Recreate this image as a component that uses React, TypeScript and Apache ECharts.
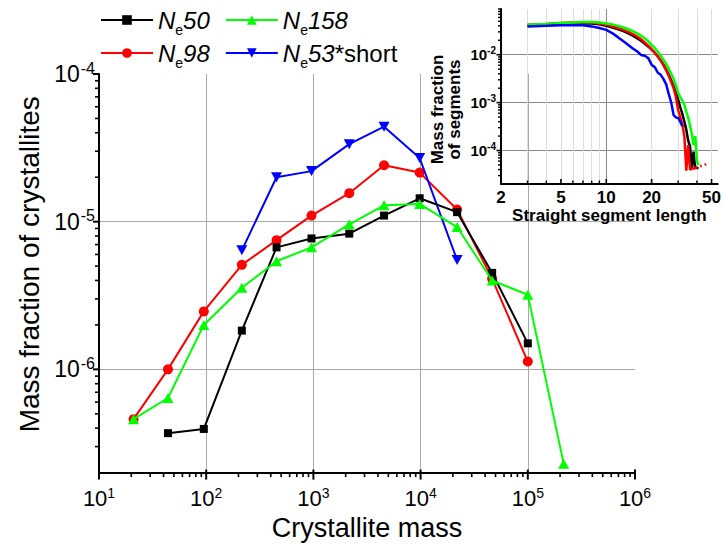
import React, { useEffect, useRef } from 'react';
import * as echarts from 'echarts';

const FONT = "'Liberation Sans', Arial, Helvetica, sans-serif";

// ---------- main chart data ----------
const massX = [21, 44, 95, 215, 453, 960, 2160, 4560, 9800, 21900, 46500, 100000, 216000];
const ne50 = [null, 3.7e-7, 3.95e-7, 1.83e-6, 6.7e-6, 7.7e-6, 8.3e-6, 1.1e-5, 1.44e-5, 1.16e-5, 4.5e-6, 1.5e-6, null];
const ne98 = [4.6e-7, 1.0e-6, 2.47e-6, 5.1e-6, 7.5e-6, 1.1e-5, 1.56e-5, 2.41e-5, 2.15e-5, 1.21e-5, 4.1e-6, 1.13e-6, null];
const ne158 = [4.6e-7, 6.4e-7, 2.0e-6, 3.57e-6, 5.4e-6, 6.7e-6, 9.6e-6, 1.29e-5, 1.32e-5, 9.2e-6, 4.0e-6, 3.2e-6, 2.3e-7];
const ne53short = [null, null, null, 6.4e-6, 2.0e-5, 2.2e-5, 3.35e-5, 4.4e-5, 2.7e-5, 5.5e-6, null, null, null];

const mainXMajor = [1e1, 1e2, 1e3, 1e4, 1e5, 1e6];
const mainXMinor = [20, 30, 40, 50, 60, 70, 80, 90, 200, 300, 400, 500, 600, 700, 800, 900,
  2000, 3000, 4000, 5000, 6000, 7000, 8000, 9000, 20000, 30000, 40000, 50000, 60000, 70000, 80000, 90000,
  200000, 300000, 400000, 500000, 600000, 700000, 800000, 900000];
const mainYMajor = [1e-6, 1e-5, 1e-4];
const mainYMinor = [3e-7, 4e-7, 5e-7, 6e-7, 7e-7, 8e-7, 9e-7, 2e-6, 3e-6, 4e-6, 5e-6, 6e-6, 7e-6, 8e-6, 9e-6,
  2e-5, 3e-5, 4e-5, 5e-5, 6e-5, 7e-5, 8e-5, 9e-5];

// ---------- inset data ----------
const segLen = [3, 4, 5, 6, 7, 8, 9, 10, 11, 12, 13, 14, 15, 16, 17, 18, 19, 20, 21, 22, 23, 24, 25,
  26, 27, 28, 29, 30, 31, 32, 33, 34, 35, 36, 37, 38, 39, 40, 41, 42, 43, 44, 45, 46, 47];
const seg50 = [0.040, 0.042, 0.044, 0.045, 0.045, 0.045, 0.043, 0.040, 0.037, 0.034, 0.031, 0.028, 0.025,
  0.022, 0.0195, 0.017, 0.0148, 0.0128, 0.011, 0.0092, 0.0076, 0.0062, 0.0049, 0.0038, 0.0029, 0.0022,
  0.0016, 0.00115, 0.0008, 0.00058, 0.0004, 0.00027, 0.00016, 0.00012, 0.000043, 0.000095, 0.000043,
  0.000043, 0.000043, null, null, null, null, null, null];
const seg98 = [0.042, 0.044, 0.046, 0.047, 0.047, 0.047, 0.045, 0.042, 0.039, 0.036, 0.033, 0.030, 0.027,
  0.024, 0.021, 0.018, 0.0155, 0.013, 0.011, 0.0092, 0.0075, 0.006, 0.0047, 0.0036, 0.0027, 0.002,
  0.0013, 0.0007, 0.0005, 0.00035, 0.0002, 0.000038, 0.00013, 0.00004, 0.000042, 0.000042, 0.000043,
  0.000045, null, 0.000047, 0.000048, null, 0.00005, 0.000052, null];
const seg158 = [0.042, 0.044, 0.046, 0.047, 0.048, 0.048, 0.047, 0.045, 0.043, 0.040, 0.037, 0.034, 0.031,
  0.028, 0.025, 0.022, 0.019, 0.016, 0.0138, 0.0115, 0.0095, 0.0078, 0.0064, 0.0051, 0.004, 0.0031,
  0.0023, 0.0016, 0.0013, 0.0011, 0.0009, 0.00065, 0.00048, 0.00033, 0.00022, 0.00013, 0.0002,
  0.00006, 0.00005, null, null, null, null, null, null];
const seg53short = [0.039, 0.040, 0.041, 0.041, 0.041, 0.039, 0.036, 0.033, 0.028, 0.023, 0.019, 0.016,
  0.0135, 0.0118, 0.0099, 0.0095, 0.0085, 0.0062, 0.0055, 0.0042, 0.0038, 0.0031, 0.0024, 0.0015, 0.001,
  0.00055, 0.00049, 0.00048, 0.0004, 0.00032, null, null, null, null, null, null, null, null, null, null,
  null, null, null, null, null];

const insetXLabels = [2, 5, 10, 20, 50];
const insetXDecade = [10];
const insetXMinor = [3, 4, 5, 6, 7, 8, 9, 20, 30, 40, 50];
const insetXMinorTicks = [3, 4, 6, 7, 8, 9, 30, 40];
const insetYMajor = [1e-4, 1e-3, 1e-2];
const insetYMinor = [3e-5, 4e-5, 5e-5, 6e-5, 7e-5, 8e-5, 9e-5, 2e-4, 3e-4, 4e-4, 5e-4, 6e-4, 7e-4, 8e-4, 9e-4,
  2e-3, 3e-3, 4e-3, 5e-3, 6e-3, 7e-3, 8e-3, 9e-3, 2e-2, 3e-2, 4e-2, 5e-2, 6e-2, 7e-2, 8e-2, 9e-2];

const legendLabel: Record<string, string> = {
  Ne50: '{n|N}{e|e}{n|50}',
  Ne98: '{n|N}{e|e}{n|98}',
  Ne158: '{n|N}{e|e}{n|158}',
  Ne53short: '{n|N}{e|e}{n|53}{r|*short}',
};

const pairs = (xs: number[], ys: (number | null)[]) => xs.map((x, i) => [x, ys[i]]);
const expFmt = (v: number) => `{b|10}{s|${Math.round(Math.log10(v))}}`;

export default function App() {
  const ref = useRef<HTMLDivElement>(null);
  useEffect(() => {
    document.body.style.margin = '0';
    const chart = echarts.init(ref.current!, null, { renderer: 'svg' });
    const black = '#000';
    const hideAxis = {
      axisLine: { show: false },
      axisLabel: { show: false },
      splitLine: { show: false },
    };
    const legendBase: any = {
      orient: 'horizontal',
      left: 100,
      itemWidth: 52,
      itemHeight: 12,
      itemGap: 15,
      padding: 0,
      selectedMode: false,
      formatter: (name: string) => legendLabel[name],
      textStyle: {
        color: black,
        fontFamily: FONT,
        rich: {
          n: { fontSize: 24, fontStyle: 'italic', lineHeight: 34, fontFamily: FONT, color: black },
          e: { fontSize: 14, lineHeight: 14, verticalAlign: 'bottom', fontFamily: FONT, color: black },
          r: { fontSize: 24, lineHeight: 34, fontFamily: FONT, color: black },
        },
      },
    };
    const option: any = {
      animation: false,
      backgroundColor: '#fff',
      textStyle: { fontFamily: FONT },
      legend: [
        { ...legendBase, top: 8, data: ['Ne50', 'Ne158'] },
        { ...legendBase, top: 41, data: ['Ne98', 'Ne53short'] },
      ],
      grid: [
        { left: 99, top: 74, width: 536, height: 401, containLabel: false },
        { left: 501, top: 9, width: 223, height: 175, containLabel: false },
      ],
      xAxis: [
        {
          type: 'log', logBase: 10, gridIndex: 0, position: 'bottom', min: 10, max: 1e6,
          axisLine: { show: true, onZero: false, lineStyle: { color: black, width: 2 } },
          axisTick: { show: false, customValues: mainXMajor },
          axisLabel: {
            show: true, customValues: mainXMajor, margin: 13, formatter: expFmt,
            rich: {
              b: { fontSize: 22, lineHeight: 25, color: black, fontFamily: FONT },
              s: { fontSize: 14, lineHeight: 14, verticalAlign: 'top', color: black, fontFamily: FONT },
            },
          },
          splitLine: { show: true, showMinLine: false, showMaxLine: false, lineStyle: { color: '#a8a8a8', width: 1 } },
          name: 'Crystallite mass', nameLocation: 'middle', nameGap: 41,
          nameTextStyle: { fontSize: 27, color: black, fontFamily: FONT },
        },
        {
          type: 'log', logBase: 10, gridIndex: 1, position: 'bottom', min: 2, max: 55,
          axisLine: { show: true, onZero: false, lineStyle: { color: black, width: 2 } },
          axisTick: { show: false, customValues: insetXLabels },
          axisLabel: {
            show: true, customValues: insetXLabels, margin: 5, formatter: (v: number) => String(v),
            fontSize: 17, fontWeight: 'bold', color: black, fontFamily: FONT,
          },
          splitLine: { show: false },
          name: 'Straight segment length', nameLocation: 'middle', nameGap: 21,
          nameTextStyle: { fontSize: 17, fontWeight: 'bold', color: black, fontFamily: FONT },
        },
        {
          type: 'log', logBase: 10, gridIndex: 1, position: 'bottom', min: 2, max: 55, ...hideAxis,
          axisTick: { show: false, customValues: insetXDecade },
          splitLine: { show: true, lineStyle: { color: '#8a8a8a', width: 1 } },
        },
        {
          type: 'log', logBase: 10, gridIndex: 1, position: 'bottom', min: 2, max: 55, ...hideAxis,
          axisTick: { show: false, customValues: insetXMinor },
          splitLine: { show: true, lineStyle: { color: '#dcdcdc', width: 1 } },
        },
      ],
      yAxis: [
        {
          type: 'log', logBase: 10, gridIndex: 0, position: 'left', min: 2e-7, max: 1e-4,
          axisLine: { show: true, onZero: false, lineStyle: { color: black, width: 2 } },
          axisTick: { show: false, customValues: mainYMajor },
          axisLabel: {
            show: true, customValues: mainYMajor, margin: 4, formatter: expFmt,
            rich: {
              b: { fontSize: 23, lineHeight: 28, color: black, fontFamily: FONT },
              s: { fontSize: 16, lineHeight: 16, verticalAlign: 'top', color: black, fontFamily: FONT, padding: [0, 0, 0, 1] },
            },
          },
          splitLine: { show: true, showMinLine: true, showMaxLine: false, lineStyle: { color: '#a8a8a8', width: 1 } },
          name: 'Mass fraction of crystallites', nameLocation: 'middle', nameGap: 53, nameRotate: 90,
          nameTextStyle: { fontSize: 28, color: black, fontFamily: FONT, padding: [0, 0, 0, 18] },
        },
        {
          type: 'log', logBase: 10, gridIndex: 1, position: 'left', min: 2e-5, max: 0.09,
          axisLine: { show: true, onZero: false, lineStyle: { color: black, width: 2 } },
          axisTick: { show: false, customValues: insetYMajor },
          axisLabel: {
            show: true, customValues: insetYMajor, margin: 5, formatter: expFmt,
            rich: {
              b: { fontSize: 15, lineHeight: 18, fontWeight: 'bold', color: black, fontFamily: FONT },
              s: { fontSize: 10, lineHeight: 10, verticalAlign: 'top', fontWeight: 'bold', color: black, fontFamily: FONT },
            },
          },
          splitLine: { show: true, lineStyle: { color: '#8a8a8a', width: 1 } },
          name: 'Mass fraction\nof segments', nameLocation: 'middle', nameGap: 38, nameRotate: 90,
          nameTextStyle: { fontSize: 17, lineHeight: 17, fontWeight: 'bold', color: black, fontFamily: FONT, padding: [0, 26, 0, 0] },
        },
      ],
      series: [
        {
          name: 'Ne98', type: 'line', xAxisIndex: 0, yAxisIndex: 0, data: pairs(massX, ne98),
          symbol: 'circle', symbolSize: 10, color: '#ff0000', lineStyle: { width: 2, color: '#ff0000' },
          itemStyle: { color: '#ff0000' }, z: 3,
        },
        {
          name: 'Ne53short', type: 'line', xAxisIndex: 0, yAxisIndex: 0, data: pairs(massX, ne53short),
          symbol: 'triangle', symbolRotate: 180, symbolSize: [11, 10], color: '#0000ff',
          lineStyle: { width: 2, color: '#0000ff' }, itemStyle: { color: '#0000ff' }, z: 4,
        },
        {
          name: 'Ne50', type: 'line', xAxisIndex: 0, yAxisIndex: 0, data: pairs(massX, ne50),
          symbol: 'rect', symbolSize: 8, color: '#000000', lineStyle: { width: 2, color: '#000000' },
          itemStyle: { color: '#000000' }, z: 5,
        },
        {
          name: 'Ne158', type: 'line', xAxisIndex: 0, yAxisIndex: 0, data: pairs(massX, ne158),
          symbol: 'triangle', symbolSize: [11, 10], color: '#00ff00', lineStyle: { width: 2, color: '#00ff00' },
          itemStyle: { color: '#00ff00' }, z: 6,
        },
        {
          name: 'inset50', type: 'line', xAxisIndex: 1, yAxisIndex: 1, data: pairs(segLen, seg50),
          symbol: 'none', showSymbol: false, lineStyle: { width: 2.5, color: '#000000' }, color: '#000000', z: 3,
        },
        {
          name: 'inset98', type: 'line', xAxisIndex: 1, yAxisIndex: 1, data: pairs(segLen, seg98),
          symbol: 'none', showSymbol: false, lineStyle: { width: 2.5, color: '#ff0000' }, color: '#ff0000', z: 4,
        },
        {
          name: 'inset158', type: 'line', xAxisIndex: 1, yAxisIndex: 1, data: pairs(segLen, seg158),
          symbol: 'none', showSymbol: false, lineStyle: { width: 2.5, color: '#00ff00' }, color: '#00ff00', z: 5,
        },
        {
          name: 'inset53short', type: 'line', xAxisIndex: 1, yAxisIndex: 1, data: pairs(segLen, seg53short),
          symbol: 'none', showSymbol: false, lineStyle: { width: 2.5, color: '#0000ff' }, color: '#0000ff', z: 6,
        },
      ],
    };
    chart.setOption(option);

    // axis tick marks, placed through the axes' own scales (convertToPixel)
    const ticks: any[] = [];
    const addTicks = (values: number[], dir: 'x' | 'y', idx: number, xRef: number, yRef: number, from: number, to: number, width: number) => {
      values.forEach((v) => {
        const p = chart.convertToPixel({ xAxisIndex: idx, yAxisIndex: idx }, dir === 'x' ? [v, yRef] : [xRef, v]) as number[];
        if (!p || isNaN(p[0]) || isNaN(p[1])) return;
        const shape = dir === 'x'
          ? { x1: p[0], y1: p[1] + from, x2: p[0], y2: p[1] + to }
          : { x1: p[0] - from, y1: p[1], x2: p[0] - to, y2: p[1] };
        ticks.push({ type: 'line', silent: true, z: 100, shape, style: { stroke: '#000', lineWidth: width } });
      });
    };
    addTicks(mainXMajor, 'x', 0, 10, 2e-7, -3, 7, 2);
    addTicks(mainXMinor, 'x', 0, 10, 2e-7, 0, 4.5, 1.6);
    addTicks(mainYMajor, 'y', 0, 10, 2e-7, 0, 6, 2);
    addTicks(mainYMinor, 'y', 0, 10, 2e-7, 0, 4, 1.6);
    addTicks(insetXLabels, 'x', 1, 2, 2e-5, 0, -5, 1.6);
    addTicks(insetXMinorTicks, 'x', 1, 2, 2e-5, 0, -3.5, 1.4);
    addTicks(insetYMajor, 'y', 1, 2, 2e-5, 0, 4.5, 1.6);
    addTicks(insetYMinor, 'y', 1, 2, 2e-5, 0, 3, 1.4);
    chart.setOption({ graphic: { elements: ticks } });

    return () => chart.dispose();
  }, []);
  return <div ref={ref} style={{ width: 724, height: 546 }} />;
}
